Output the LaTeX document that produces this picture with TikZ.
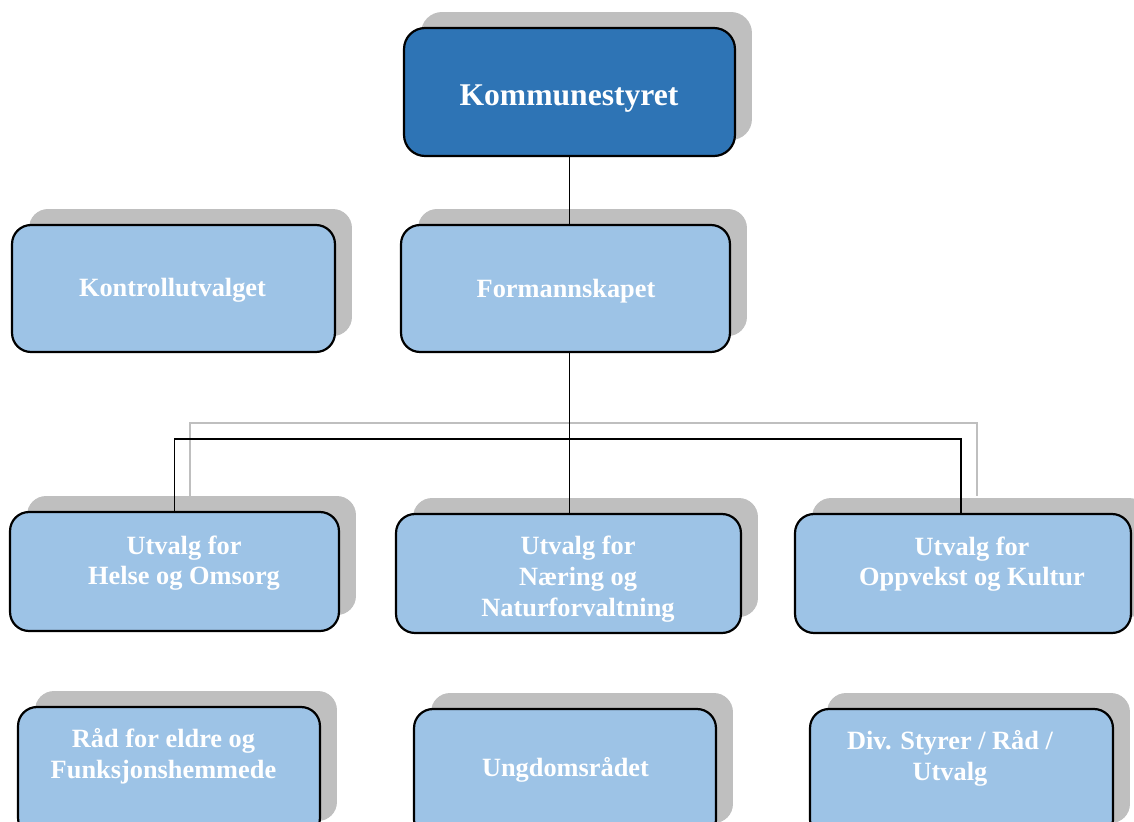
\documentclass[tikz,border=0pt]{standalone}
\usepackage{fontspec}
\setmainfont{Liberation Serif}
\usetikzlibrary{shadows}

\definecolor{topblue}{HTML}{2E74B5}
\definecolor{boxblue}{HTML}{9DC3E6}
\definecolor{shadowgray}{HTML}{BFBFBF}

\tikzset{
  unit/.style={draw=black, line width=1.25pt, rounded corners=0.38cm, fill=boxblue,
    drop shadow={shadow xshift=0.34cm, shadow yshift=0.32cm, fill=shadowgray, opacity=1}},
  topunit/.style={unit, fill=topblue, rounded corners=0.42cm},
  unittext/.style={text=white, align=center, font=\fontsize{15}{17.5}\selectfont\bfseries},
  link/.style={line width=1.1pt},
  linkshadow/.style={line width=1pt, draw=shadowgray}
}

\begin{document}
\begin{tikzpicture}[x=0.02cm, y=-0.02cm]
\useasboundingbox (0,0) rectangle (1134,822);
\clip (0,0) rectangle (1134,822);
% Shadow of the bracket
\draw [linkshadow] (190,496) -- (190,423) -- (977,423) -- (977,496);
% Boxes
\node [topunit, minimum width=6.62cm, minimum height=2.56cm] (ks) at (569.5,92) {};
\node [unit, minimum width=6.46cm, minimum height=2.54cm] (kontroll) at (173.5,288.5) {};
\node [unit, minimum width=6.58cm, minimum height=2.54cm] (formann) at (565.5,288.5) {};
\node [unit, minimum width=6.58cm, minimum height=2.38cm] (helse) at (174.5,571.5) {};
\node [unit, minimum width=6.90cm, minimum height=2.38cm] (naering) at (568.5,573.5) {};
\node [unit, minimum width=6.72cm, minimum height=2.38cm] (oppvekst) at (963,573.5) {};
\node [unit, minimum width=6.04cm, minimum height=2.6cm] (raad) at (169,772) {};
\node [unit, minimum width=6.04cm, minimum height=2.6cm] (ungdom) at (565,774) {};
\node [unit, minimum width=6.06cm, minimum height=2.6cm] (div) at (961.5,774) {};
% Lines
\coordinate (fork) at (569,439);
\draw [link] (ks.south) -- (ks.south |- formann.north);
\draw [link] (formann.south -| ks.south) -- (naering.north -| ks.south);
\draw [link] (helse.north) |- (fork) -| ([xshift=-0.04cm]oppvekst.north);
% Labels
\node [unittext, font=\fontsize{18}{21}\selectfont\bfseries] (ks-t) at (569,99) {Kommunestyret};
\node [unittext] (kontroll-t) at (172.5,290) {Kontrollutvalget};
\node [unittext] (formann-t) at (566,291) {Formannskapet};
\node [unittext] (helse-t) at (184,563) {Utvalg for\\Helse og Omsorg};
\node [unittext] (naering-t) at (578,579) {Utvalg for\\Næring og\\Naturforvaltning};
\node [unittext] (oppvekst-t) at (972,564) {Utvalg for\\Oppvekst og Kultur};
\node [unittext] (raad-t) at (163.5,756) {Råd for eldre og\\Funksjonshemmede};
\node [unittext] (ungdom-t) at (565.5,770) {Ungdomsrådet};
\node [unittext] (div-t) at (950,758) {Div. Styrer / Råd /\\Utvalg};
\end{tikzpicture}
\end{document}
